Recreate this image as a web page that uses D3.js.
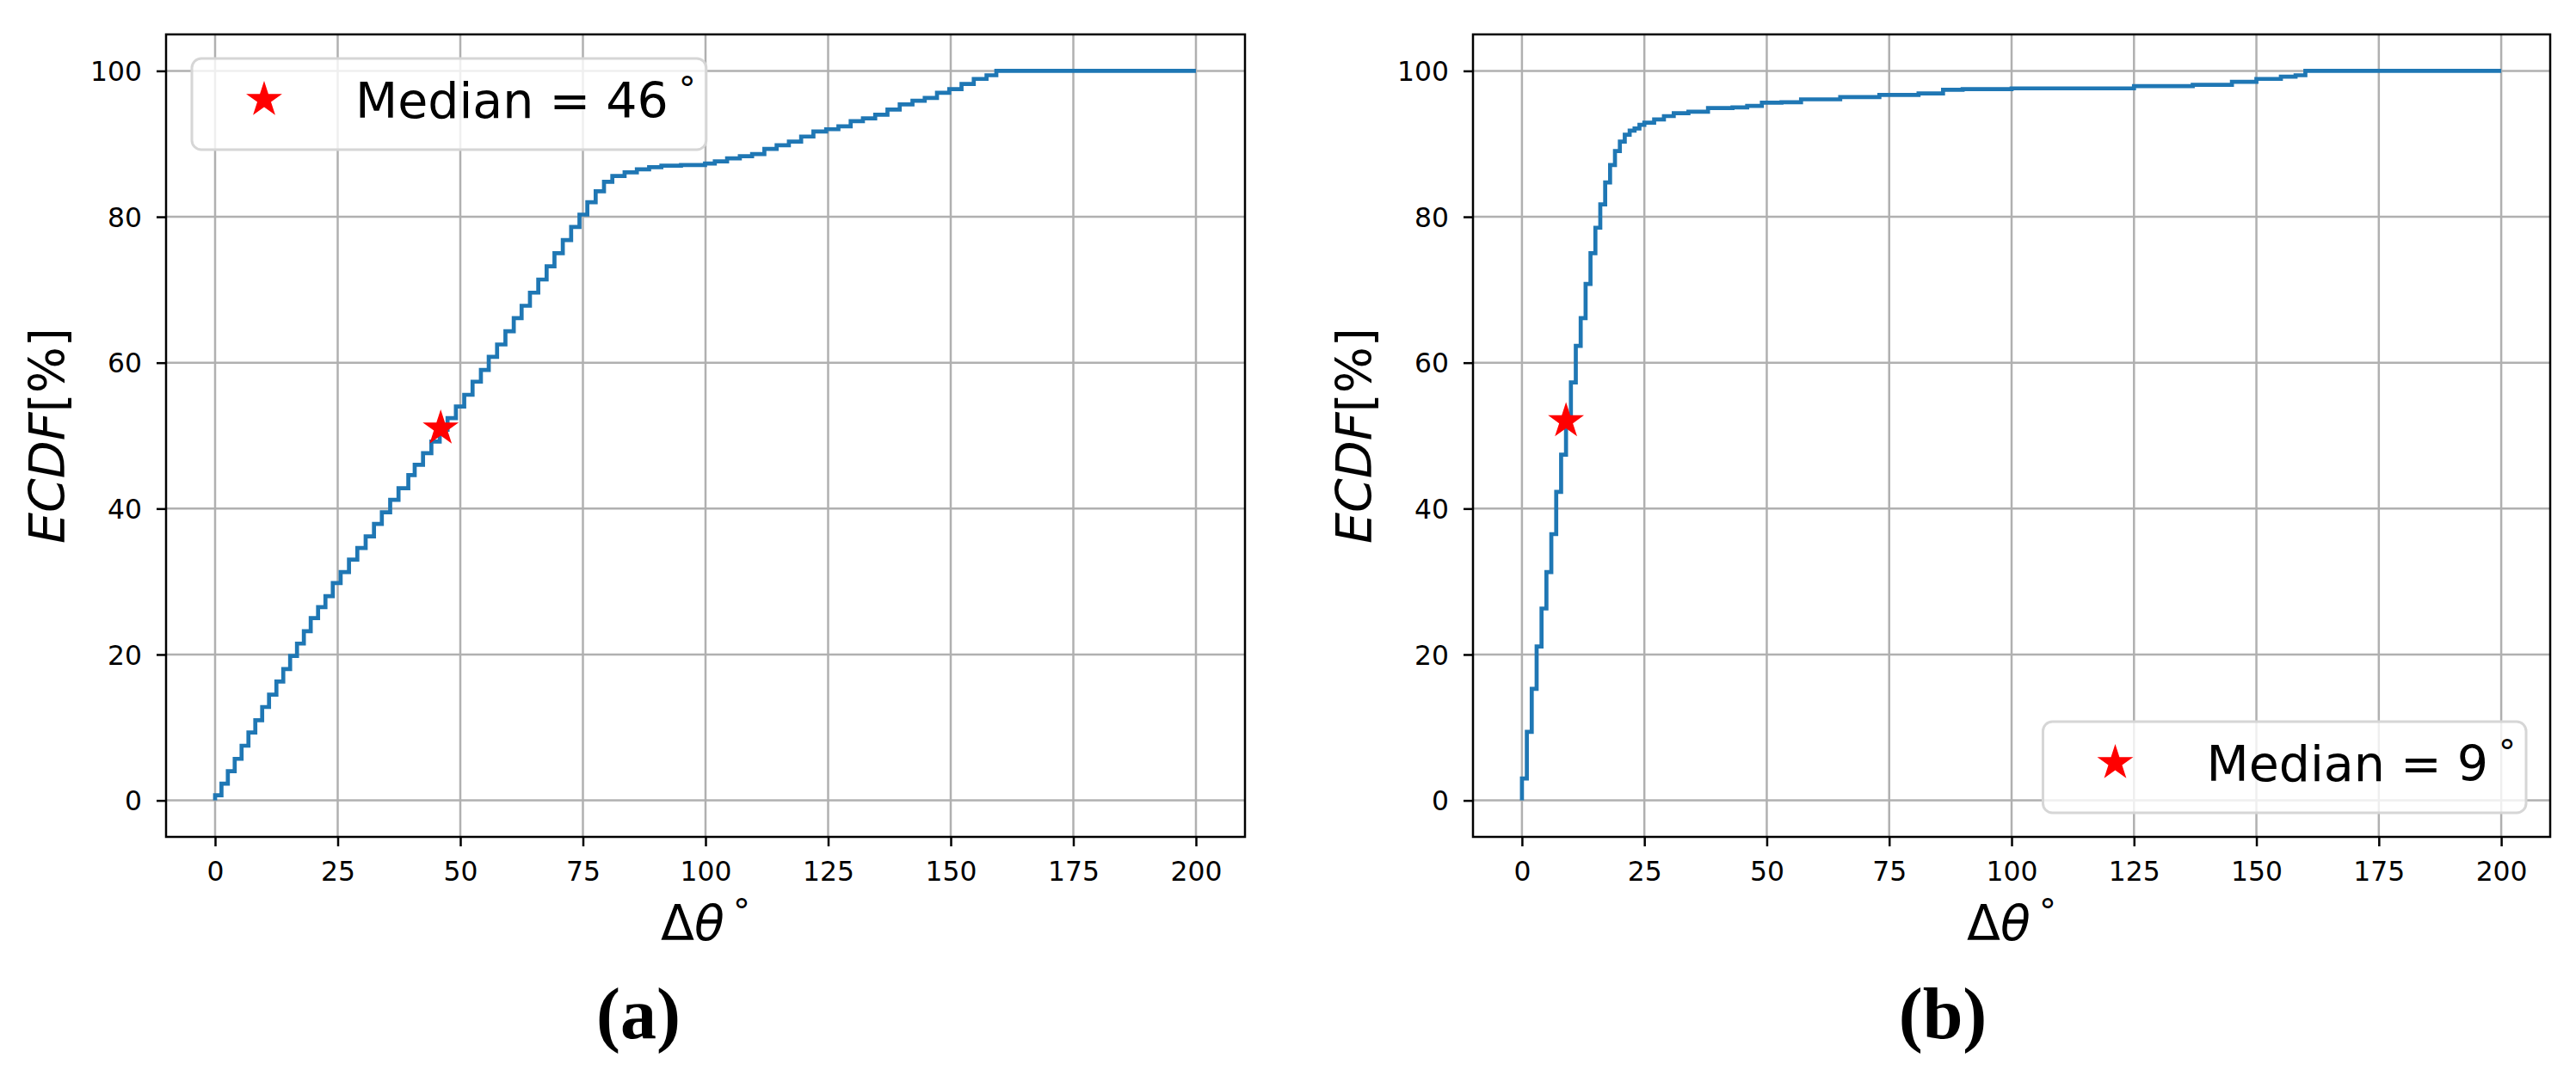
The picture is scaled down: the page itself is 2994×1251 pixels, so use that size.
<!DOCTYPE html>
<html>
<head>
<meta charset="utf-8">
<script src="https://cdn.jsdelivr.net/npm/d3@7"></script>
<style>
  html, body { margin: 0; padding: 0; background: #ffffff; }
  svg { display: block; }
</style>
</head>
<body>
<svg id="chart" width="2994" height="1251"></svg>
<script>
// ---------------- data ----------------
const xTicks = [0, 25, 50, 75, 100, 125, 150, 175, 200];
const yTicks = [0, 20, 40, 60, 80, 100];

// panel (a): ECDF step points  (Δθ in degrees, ECDF in %)
const ecdfA_x = [0, 1.3, 2.6, 4.0, 5.4, 6.8, 8.2, 9.6, 11.0, 12.5, 13.9, 15.3, 16.7, 18.1, 19.5, 21.0, 22.5, 24.0, 25.6, 27.3, 29.0, 30.7, 32.4, 34.0, 35.7, 37.4, 39.4, 40.7, 42.4, 44.1, 45.8, 47.4, 49.1, 50.8, 52.5, 54.2, 55.8, 57.5, 59.2, 60.9, 62.5, 64.2, 65.9, 67.6, 69.2, 70.9, 72.6, 74.3, 75.9, 77.6, 79.3, 81.0, 83.5, 86.0, 88.5, 91.0, 95.0, 99.9, 101.9, 104.4, 107, 109.5, 112, 114.5, 117, 119.5, 122, 124.6, 127.1, 129.6, 132.1, 134.6, 137.1, 139.6, 142.2, 144.7, 147.2, 149.7, 152.2, 154.7, 157.3, 159.3, 200];
const ecdfA_y = [0.7, 2.3, 4.0, 5.7, 7.5, 9.3, 11.0, 12.8, 14.5, 16.3, 18.0, 19.8, 21.5, 23.2, 25.0, 26.5, 28.0, 29.8, 31.3, 33.0, 34.6, 36.2, 37.9, 39.5, 41.2, 42.8, 44.6, 46.0, 47.6, 49.2, 50.8, 52.4, 54.0, 55.6, 57.4, 59.0, 60.8, 62.5, 64.3, 66.1, 67.8, 69.6, 71.4, 73.2, 75.0, 76.8, 78.6, 80.3, 82.0, 83.5, 84.8, 85.6, 86.1, 86.5, 86.8, 87.0, 87.1, 87.3, 87.6, 88.0, 88.3, 88.6, 89.3, 89.8, 90.3, 91.0, 91.7, 92.0, 92.4, 93.1, 93.5, 94.0, 94.7, 95.4, 95.9, 96.3, 97.0, 97.5, 98.2, 98.9, 99.4, 100, 100];
const medianA = { x: 46, y: 51, label: "Median = 46" };

// panel (b)
const ecdfB_x = [0, 1, 2, 3, 4, 5, 6, 7, 8, 9, 10, 11, 12, 13, 14, 15, 16, 17, 18, 19, 20, 21, 22, 23, 24, 25, 27, 29, 31, 34, 38, 43, 46, 49, 53, 57, 65, 73, 81, 86, 90, 100, 125, 137, 145, 150, 155, 158, 160, 200];
const ecdfB_y = [3.0, 9.4, 15.3, 21.1, 26.3, 31.3, 36.5, 42.3, 47.4, 52.2, 57.3, 62.3, 66.1, 70.8, 75.0, 78.5, 81.7, 84.7, 87.1, 89.0, 90.3, 91.25, 91.8, 92.1, 92.6, 92.9, 93.35, 93.8, 94.2, 94.4, 94.9, 95.0, 95.2, 95.65, 95.7, 96.1, 96.4, 96.7, 96.9, 97.4, 97.5, 97.6, 97.9, 98.1, 98.5, 98.9, 99.2, 99.4, 100, 100];
const medianB = { x: 9, y: 52, label: "Median = 9" };

const panelLabels = ["(a)", "(b)"];

// ---------------- layout ----------------
const svg = d3.select("#chart");
svg.append("rect").attr("width", 2994).attr("height", 1251).attr("fill", "#fff");

const TOP = 40, BOTTOM = 973;
const FONT = "DejaVu Sans, sans-serif";
const TICK_FS = 31.4, LABEL_FS = 57, LEGEND_FS = 57;
const LINE_BLUE = "#1f77b4";

const panels = [
  { left: 193, right: 1447, xs: ecdfA_x, ys: ecdfA_y, med: medianA, legend: "upper left", label: panelLabels[0], labelX: 742 },
  { left: 1712, right: 2964, xs: ecdfB_x, ys: ecdfB_y, med: medianB, legend: "lower right", label: panelLabels[1], labelX: 2258 }
];

const y = d3.scaleLinear().domain([-5, 105]).range([BOTTOM, TOP]);
const starSym = d3.symbol().type(d3.symbolStar).size(543);

panels.forEach(p => {
  const x = d3.scaleLinear().domain([-10, 210]).range([p.left, p.right]);
  const g = svg.append("g");

  // grid
  const grid = g.append("g");
  grid.selectAll("line.vx").data(xTicks).join("line")
    .attr("x1", d => x(d)).attr("x2", d => x(d))
    .attr("y1", TOP).attr("y2", BOTTOM)
    .attr("stroke", "#b0b0b0").attr("stroke-width", 2.5);
  grid.selectAll("line.hy").data(yTicks).join("line")
    .attr("x1", p.left).attr("x2", p.right)
    .attr("y1", d => y(d)).attr("y2", d => y(d))
    .attr("stroke", "#b0b0b0").attr("stroke-width", 2.5);

  // ECDF line (steps-post)
  const pts = p.xs.map((v, i) => [v, p.ys[i]]);
  pts.unshift([p.xs[0], 0]);
  const line = d3.line().x(d => x(d[0])).y(d => y(d[1])).curve(d3.curveStepAfter);
  g.append("path").datum(pts)
    .attr("d", line)
    .attr("fill", "none").attr("stroke", LINE_BLUE).attr("stroke-width", 4.7)
    .attr("stroke-linejoin", "miter").attr("stroke-linecap", "butt");

  // median star
  g.append("path").attr("d", starSym)
    .attr("transform", `translate(${x(p.med.x)},${y(p.med.y)})`)
    .attr("fill", "red");

  // axes
  const xAxis = d3.axisBottom(x).tickValues(xTicks).tickSize(11).tickPadding(18).tickFormat(d3.format("d"));
  const yAxis = d3.axisLeft(y).tickValues(yTicks).tickSize(11).tickPadding(17).tickFormat(d3.format("d"));
  const gx = g.append("g").attr("transform", `translate(0,${BOTTOM})`).call(xAxis);
  const gy = g.append("g").attr("transform", `translate(${p.left},0)`).call(yAxis);
  [gx, gy].forEach(a => {
    a.select(".domain").remove();
    a.selectAll(".tick line").attr("stroke", "#000").attr("stroke-width", 2.5);
    a.selectAll(".tick text").attr("font-family", FONT).attr("font-size", TICK_FS).attr("fill", "#000");
  });
  gy.selectAll(".tick text").attr("dy", "0.36em");

  // frame
  g.append("rect").attr("x", p.left).attr("y", TOP)
    .attr("width", p.right - p.left).attr("height", BOTTOM - TOP)
    .attr("fill", "none").attr("stroke", "#000").attr("stroke-width", 2.5);

  // x label  Δθ°
  const cx = (p.left + p.right) / 2;
  const xl = g.append("text").attr("x", cx).attr("y", 1093)
    .attr("text-anchor", "middle").attr("font-family", FONT).attr("font-size", LABEL_FS);
  xl.append("tspan").text("Δ");
  xl.append("tspan").attr("font-style", "italic").text("θ");
  xl.append("tspan").attr("font-size", LABEL_FS * 0.7).attr("dx", 10).attr("dy", -20).text("°");

  // y label  ECDF[%]
  const cy = (TOP + BOTTOM) / 2;
  const yl = g.append("text")
    .attr("transform", `translate(${p.left - 118},${cy}) rotate(-90)`)
    .attr("text-anchor", "middle").attr("font-family", FONT).attr("font-size", LABEL_FS);
  yl.append("tspan").attr("font-style", "italic").text("ECDF");
  yl.append("tspan").text("[%]");

  // legend
  const boxH = 106, pad = 24;
  const lg = g.append("g");
  const frame = lg.append("rect");
  const lt = lg.append("text").attr("font-family", FONT).attr("font-size", LEGEND_FS).attr("fill", "#000");
  lt.append("tspan").text(p.med.label);
  lt.append("tspan").attr("font-size", LEGEND_FS * 0.7).attr("dx", 12).attr("dy", -20).text("°");
  const tlen = lt.node().getComputedTextLength();
  const boxW = 190 + tlen + pad;
  let bx, by;
  if (p.legend === "upper left") { bx = p.left + 30; by = TOP + 28; }
  else { bx = p.right - 28 - boxW; by = BOTTOM - 28 - boxH; }
  frame.attr("x", bx).attr("y", by).attr("width", boxW).attr("height", boxH)
    .attr("rx", 11).attr("ry", 11)
    .attr("fill", "rgba(255,255,255,0.8)").attr("stroke", "#d6d6d6").attr("stroke-width", 3);
  lg.append("path").attr("d", starSym)
    .attr("transform", `translate(${bx + 84},${by + 48})`).attr("fill", "red");
  lt.attr("x", bx + 190).attr("y", by + 69);

  // panel caption
  g.append("text").attr("x", p.labelX).attr("y", 1207)
    .attr("text-anchor", "middle").attr("font-family", "Liberation Serif, serif")
    .attr("font-weight", "bold").attr("font-size", 84).text(p.label);
});
</script>
</body>
</html>
